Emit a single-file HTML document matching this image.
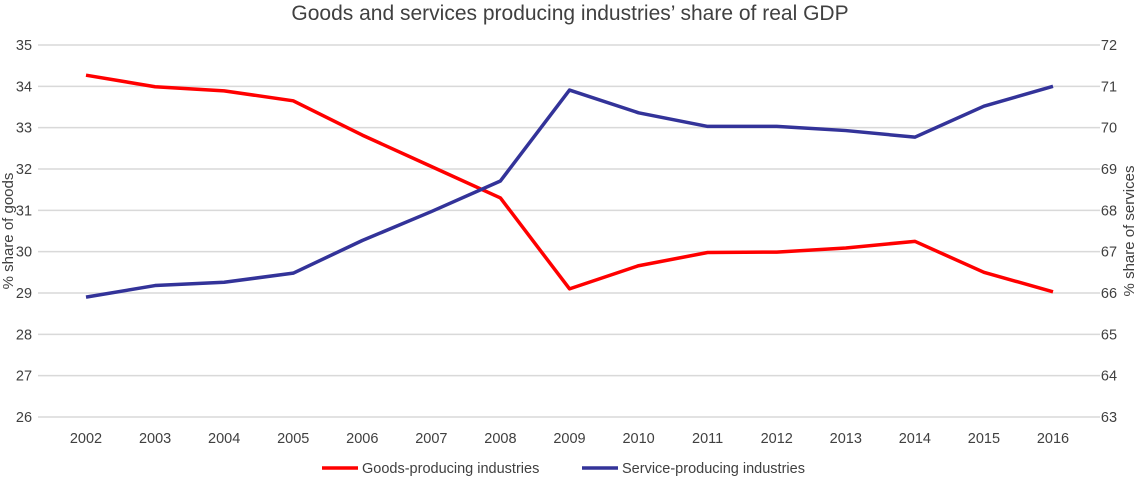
<!DOCTYPE html>
<html><head><meta charset="utf-8"><style>
html,body{margin:0;padding:0;background:#fff;}
svg text{font-family:"Liberation Sans",Arial,sans-serif;fill:#404040;}
</style></head><body>
<svg id="chart" width="1140" height="478" xmlns="http://www.w3.org/2000/svg">
<text x="570" y="20" text-anchor="middle" font-size="21">Goods and services producing industries’ share of real GDP</text>
<g id="grid"></g><g id="axes"></g><g id="lines"></g>
<text transform="translate(13,231) rotate(-90)" text-anchor="middle" font-size="15">% share of goods</text>
<text transform="translate(1134,231) rotate(-90)" text-anchor="middle" font-size="15">% share of services</text>
<g>
<line x1="322" y1="468" x2="358" y2="468" stroke="#ff0000" stroke-width="3.5"/>
<text x="362" y="473" font-size="14.5">Goods-producing industries</text>
<line x1="582" y1="468" x2="618" y2="468" stroke="#333399" stroke-width="3.5"/>
<text x="622" y="473" font-size="14.5">Service-producing industries</text>
</g>
</svg>
<script>
const years=[2002,2003,2004,2005,2006,2007,2008,2009,2010,2011,2012,2013,2014,2015,2016];
const goods=[34.27,33.99,33.89,33.65,32.82,32.06,31.30,29.10,29.66,29.98,29.99,30.09,30.25,29.50,29.03];
const services=[65.90,66.18,66.26,66.48,67.27,67.97,68.71,70.91,70.36,70.03,70.03,69.93,69.77,70.52,71.00];
const leftTicks=[26,27,28,29,30,31,32,33,34,35];
const rightTicks=[63,64,65,66,67,68,69,70,71,72];
const NS="http://www.w3.org/2000/svg";
const x0=86,x1=1053,yTop=45,yBot=417;
const xs=i=>x0+(x1-x0)*i/(years.length-1);
const yL=v=>yBot-(v-26)/(35-26)*(yBot-yTop);
const yR=v=>yBot-(v-63)/(72-63)*(yBot-yTop);
function mk(tag,attrs,parent){const e=document.createElementNS(NS,tag);for(const k in attrs)e.setAttribute(k,attrs[k]);parent.appendChild(e);return e;}
const grid=document.getElementById('grid'),axes=document.getElementById('axes'),lines=document.getElementById('lines');
leftTicks.forEach(t=>{
  const l=mk('line',{x1:38,x2:1100,y1:yL(t),y2:yL(t),stroke:'#d9d9d9','stroke-width':1.5},grid);
  
  
  const tx=mk('text',{x:24,y:yL(t)+5,'text-anchor':'middle','font-size':14.5},axes);
  tx.textContent=t;
  
  
});
rightTicks.forEach(t=>{
  const tx=mk('text',{x:1109,y:yR(t)+5,'text-anchor':'middle','font-size':14.5},axes);
  tx.textContent=t;
  
  
});
years.forEach((y,i)=>{
  const tx=mk('text',{x:xs(i),y:443,'text-anchor':'middle','font-size':14.5},axes);
  tx.textContent=y;
  
  
});
const gp=mk('polyline',{points:goods.map((v,i)=>xs(i)+','+yL(v)).join(' '),fill:'none',stroke:'#ff0000','stroke-width':3.5,'stroke-linejoin':'round'},lines);


const sp=mk('polyline',{points:services.map((v,i)=>xs(i)+','+yR(v)).join(' '),fill:'none',stroke:'#333399','stroke-width':3.5,'stroke-linejoin':'round'},lines);


</script>
</body></html>
